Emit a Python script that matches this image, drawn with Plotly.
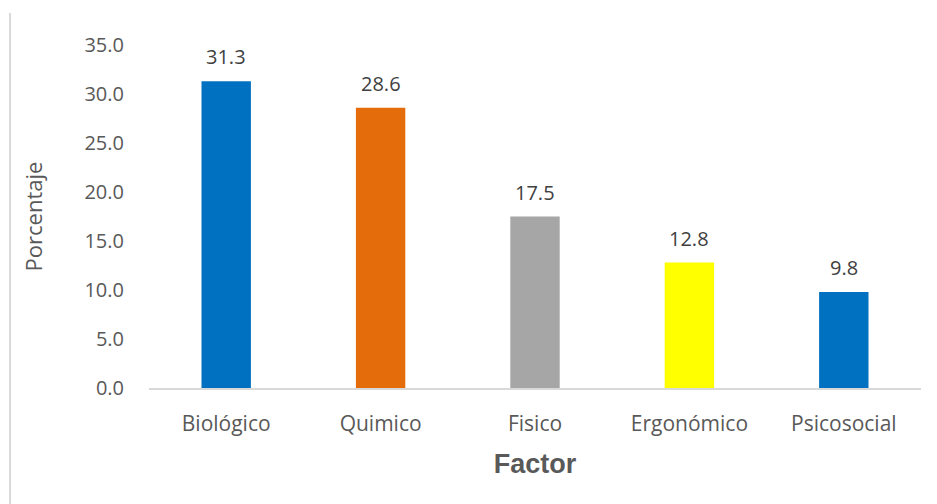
import plotly.graph_objects as go

# Datos del gráfico
factores = ["Biológico", "Quimico", "Fisico", "Ergonómico", "Psicosocial"]
porcentajes = [31.3, 28.6, 17.5, 12.8, 9.8]
colores = ["#0070C0", "#E46C0A", "#A6A6A6", "#FFFF00", "#0070C0"]
ticks_y = [0, 5, 10, 15, 20, 25, 30, 35]

fuente = "Open Sans, Liberation Sans, sans-serif"
gris = "#595959"

fig = go.Figure()

fig.add_trace(go.Bar(
    x=factores,
    y=porcentajes,
    marker=dict(color=colores, line=dict(width=0)),
    width=0.32,
    showlegend=False,
    hoverinfo="x+y",
))

# etiquetas de datos sobre cada barra
for f, v in zip(factores, porcentajes):
    fig.add_annotation(
        x=f, y=v, text=f"{v:.1f}",
        showarrow=False, yanchor="bottom", yshift=9,
        font=dict(family=fuente, size=20, color="#404040"),
    )

fig.update_layout(
    width=937,
    height=504,
    margin=dict(l=149, r=16, t=45, b=116),
    plot_bgcolor="white",
    paper_bgcolor="white",
    font=dict(family=fuente, size=20, color=gris),
    xaxis=dict(
        title=dict(text="<b>Factor</b>", standoff=18,
                   font=dict(family="Liberation Sans, Arial, sans-serif", size=27, color=gris)),
        showline=True, linecolor="#D9D9D9", linewidth=2,
        ticks="outside", ticklen=16, tickcolor="white",
        showgrid=False,
        tickfont=dict(size=21),
    ),
    yaxis=dict(
        title=dict(text="Porcentaje", standoff=35, font=dict(size=22, color=gris)),
        range=[0, 35],
        tickvals=ticks_y,
        ticktext=[f"{t:.1f}" for t in ticks_y],
        ticks="outside", ticklen=20, tickcolor="white",
        showgrid=False, zeroline=False, showline=False,
        tickfont=dict(size=20),
    ),
    shapes=[dict(
        type="line", xref="paper", yref="paper",
        x0=-0.180, x1=-0.180, y0=-0.36, y1=1.093,
        line=dict(color="#D9D9D9", width=2),
    )],
)

fig.write_html("out.html", config={"displayModeBar": False},
               post_script="document.body.style.margin='0';")
